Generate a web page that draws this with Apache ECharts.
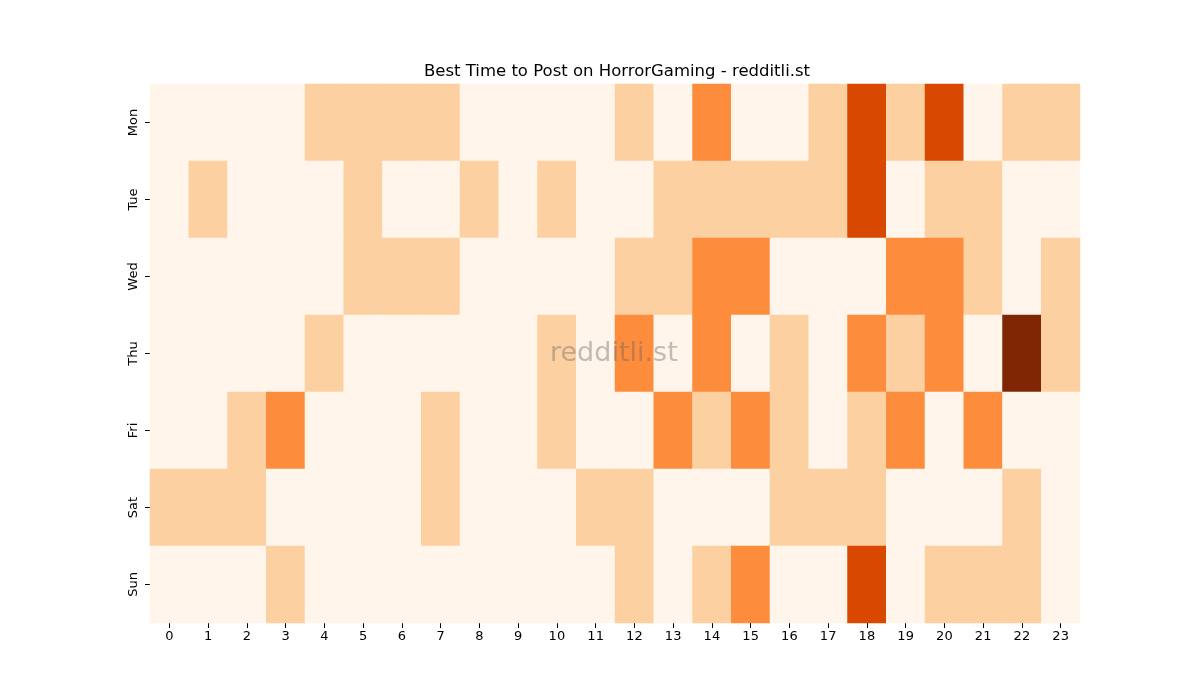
<!DOCTYPE html>
<html>
<head>
<meta charset="utf-8">
<script src="https://cdn.jsdelivr.net/npm/echarts@6/dist/echarts.min.js"></script>
<style>
  html, body { margin: 0; padding: 0; background: #fff; }
  #main { width: 1200px; height: 700px; }
</style>
</head>
<body>
<div id="main"></div>
<script>
// hours along the bottom, days down the side
var hours = ['0','1','2','3','4','5','6','7','8','9','10','11','12','13','14','15','16','17','18','19','20','21','22','23'];
var days = ['Mon', 'Tue', 'Wed', 'Thu', 'Fri', 'Sat', 'Sun'];

// posting score per hour, one row per day
var mon = [0,0,0,0,1,1,1,1,0,0,0,0,1,0,2,0,0,1,3,1,3,0,1,1];
var tue = [0,1,0,0,0,1,0,0,1,0,1,0,0,1,1,1,1,1,3,0,1,1,0,0];
var wed = [0,0,0,0,0,1,1,1,0,0,0,0,1,1,2,2,0,0,0,2,2,1,0,1];
var thu = [0,0,0,0,1,0,0,0,0,0,1,0,2,0,2,0,1,0,2,1,2,0,4,1];
var fri = [0,0,1,2,0,0,0,1,0,0,1,0,0,2,1,2,1,0,1,2,0,2,0,0];
var sat = [1,1,1,0,0,0,0,1,0,0,0,1,1,0,0,0,1,1,1,0,0,0,1,0];
var sun = [0,0,0,1,0,0,0,0,0,0,0,0,1,0,1,2,0,0,3,0,1,1,1,0];

var rows = [mon, tue, wed, thu, fri, sat, sun];

var myChart = echarts.init(document.getElementById('main'));

// build [x, y, value] triples for the heatmap
var cells = [];
rows.forEach(function (row, d) {
    row.forEach(function (v, h) {
        cells.push([h, d, v]);
    });
});

var font = 'DejaVu Sans';

var option = {
    animation: false,
    title: {
        text: 'Best Time to Post on HorrorGaming - redditli.st',
        left: 612,
        textAlign: 'center',
        top: 58,
        textStyle: { fontFamily: font, fontSize: 16.5, fontWeight: 'normal', color: '#000' }
    },
    grid: { left: 150, right: 120, top: 84, bottom: 77 },
    xAxis: {
        type: 'category',
        data: hours,
        axisLine: { show: false },
        axisTick: { show: true, alignWithLabel: true, length: 5, lineStyle: { color: '#000' } },
        axisLabel: { fontFamily: font, fontSize: 13, color: '#000', margin: 7 },
        splitLine: { show: false }
    },
    yAxis: {
        type: 'category',
        data: days,
        inverse: true,
        axisLine: { show: false },
        axisTick: { show: true, alignWithLabel: true, length: 5, lineStyle: { color: '#000' } },
        axisLabel: { fontFamily: font, fontSize: 13, color: '#000', rotate: 90, margin: 10 },
        splitLine: { show: false }
    },
    visualMap: {
        show: false,
        min: 0,
        max: 4,
        dimension: 2,
        inRange: { color: ['#fff5eb', '#fdd0a2', '#fd8d3c', '#d94801', '#7f2704'] }
    },
    graphic: [{
        type: 'text',
        left: 550,
        top: 340,
        z: 100,
        silent: true,
        style: {
            text: 'redditli.st',
            fontFamily: font,
            fontSize: 27,
            fill: 'rgba(100,100,100,0.4)'
        }
    }],
    series: [{
        type: 'heatmap',
        data: cells,
        itemStyle: { borderWidth: 0 },
        emphasis: { disabled: true }
    }]
};

myChart.setOption(option);
</script>
</body>
</html>
